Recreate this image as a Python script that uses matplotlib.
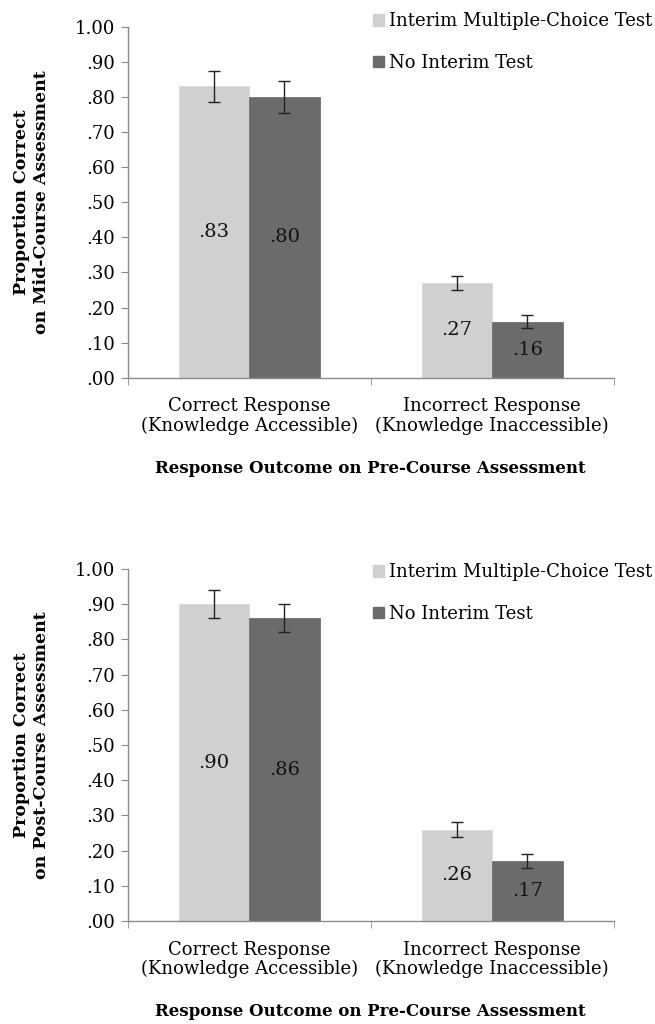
import matplotlib.pyplot as plt
import matplotlib.patches as patches
import numpy as np

categories = ['Correct Response\n(Knowledge Accessible)',
              'Incorrect Response\n(Knowledge Inaccessible)']
series_names = ['Interim Multiple-Choice Test', 'No Interim Test']

mid_interim = [0.83, 0.27]
mid_none = [0.80, 0.16]
mid_interim_err = [0.044, 0.02]
mid_none_err = [0.045, 0.018]

post_interim = [0.90, 0.26]
post_none = [0.86, 0.17]
post_interim_err = [0.04, 0.02]
post_none_err = [0.04, 0.02]

value_labels_mid = [['.83', '.27'], ['.80', '.16']]
value_labels_post = [['.90', '.26'], ['.86', '.17']]

ytick_vals = [0.0, 0.1, 0.2, 0.3, 0.4, 0.5, 0.6, 0.7, 0.8, 0.9, 1.0]
ytick_labels = ['.00', '.10', '.20', '.30', '.40', '.50', '.60', '.70', '.80', '.90', '1.00']

plt.rcParams['font.family'] = ['DejaVu Serif']

LIGHT = '#d0d0d0'
DARK = '#6b6b6b'
AXIS = '#8a8a8a'


def draw_panel(fig, rect, interim, none, ierr, nerr, labels, ylabel, leg_anchor):
    ax = fig.add_axes(rect)
    x = np.arange(len(categories)) + 0.5
    w = 0.29
    ax.bar(x - w / 2, interim, w, color=LIGHT, edgecolor='#dadada', linewidth=0.6,
           yerr=ierr, error_kw=dict(ecolor='#222222', elinewidth=1, capsize=4, capthick=1),
           label=series_names[0])
    ax.bar(x + w / 2, none, w, color=DARK, edgecolor='#727272', linewidth=0.6,
           yerr=nerr, error_kw=dict(ecolor='#222222', elinewidth=1, capsize=4, capthick=1),
           label=series_names[1])
    for i in range(len(categories)):
        ax.text(x[i] - w / 2, interim[i] / 2, labels[0][i], ha='center', va='center',
                fontsize=14, color='#111111')
        ax.text(x[i] + w / 2, none[i] / 2, labels[1][i], ha='center', va='center',
                fontsize=14, color='#111111')

    ax.set_xlim(0, 2)
    ax.set_ylim(0, 1.0)
    ax.set_yticks(ytick_vals)
    ax.set_yticklabels(ytick_labels, fontsize=13)
    ax.set_xticks(x)
    ax.set_xticklabels(categories, fontsize=13, linespacing=1.1)
    ax.set_xticks([0, 1, 2], minor=True)
    ax.tick_params(axis='x', which='major', length=0, pad=14)
    ax.tick_params(axis='x', which='minor', length=5, color=AXIS, direction='out')
    ax.tick_params(axis='y', length=5, color=AXIS, pad=4)
    for s in ['top', 'right']:
        ax.spines[s].set_visible(False)
    for s in ['left', 'bottom']:
        ax.spines[s].set_color(AXIS)
        ax.spines[s].set_linewidth(1)

    ax.set_ylabel(ylabel, fontsize=12.5, fontweight='bold', linespacing=1.25, labelpad=18)
    ax.set_xlabel('Response Outcome on Pre-Course Assessment', fontsize=12,
                  fontweight='bold', labelpad=18)

    handles = [patches.Patch(color=LIGHT), patches.Patch(color=DARK)]
    fig.legend(handles, series_names, loc='upper left', bbox_to_anchor=leg_anchor,
               frameon=False, fontsize=13, handlelength=0.6, handleheight=0.6,
               handletextpad=0.3, labelspacing=1.3, borderaxespad=0)
    return ax


fig = plt.figure(figsize=(6.55, 10.24), dpi=100)

draw_panel(fig, [0.195, 0.631, 0.742, 0.343], mid_interim, mid_none,
           mid_interim_err, mid_none_err, value_labels_mid,
           'Proportion Correct\non Mid-Course Assessment', (0.558, 0.995))
draw_panel(fig, [0.195, 0.1005, 0.742, 0.344], post_interim, post_none,
           post_interim_err, post_none_err, value_labels_post,
           'Proportion Correct\non Post-Course Assessment', (0.558, 0.457))

fig.savefig('out.png', dpi=100)
